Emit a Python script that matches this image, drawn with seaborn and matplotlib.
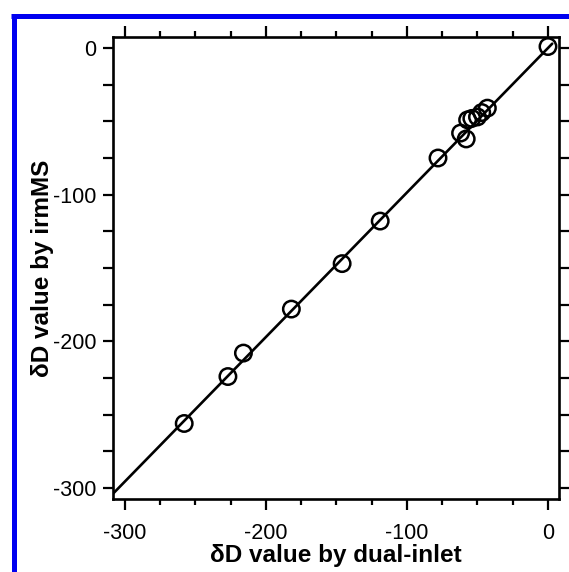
import numpy as np
import pandas as pd
import matplotlib
matplotlib.use('Agg')
import matplotlib.pyplot as plt
from matplotlib.ticker import MultipleLocator
from matplotlib.lines import Line2D
import seaborn as sns

# dD values (permil)
dual_inlet = [0, -43, -47, -50, -54, -57, -62, -58, -78, -119, -146, -182, -216, -227, -258]
irm_ms = [1, -41, -44, -47, -48, -49, -58, -62, -75, -118, -147, -178, -208, -224, -256]

# fitted line (slope, intercept) and its x extent
fit_slope = 0.985
fit_intercept = 0.0
fit_x = [-312, 3]

df = pd.DataFrame({'dual_inlet': dual_inlet, 'irmMS': irm_ms})
line_df = pd.DataFrame({'x': fit_x})
line_df['y'] = fit_slope * line_df['x'] + fit_intercept

sns.set_style('ticks')
plt.rcParams['font.family'] = ['Liberation Sans', 'DejaVu Sans']
plt.rcParams['axes.unicode_minus'] = False
plt.rcParams['text.color'] = 'black'
plt.rcParams['axes.labelcolor'] = 'black'

fig = plt.figure(figsize=(5.69, 5.72), dpi=100)
ax = fig.add_axes([0.1986, 0.1276, 0.7838, 0.8077])

sns.lineplot(data=line_df, x='x', y='y', ax=ax, color='black', linewidth=1.9)
sns.scatterplot(data=df, x='dual_inlet', y='irmMS', ax=ax, marker='o', s=140,
                facecolor='none', edgecolor='black', linewidth=1.8, zorder=3)

ax.set_xlim(-308.5, 7.8)
ax.set_ylim(-307.5, 7.5)

ax.xaxis.set_major_locator(MultipleLocator(100))
ax.xaxis.set_minor_locator(MultipleLocator(25))
ax.yaxis.set_major_locator(MultipleLocator(100))
ax.yaxis.set_minor_locator(MultipleLocator(25))

ax.tick_params(which='both', direction='out', top=True, right=True, width=1.6, color='black',
               labelsize=15.5, labelcolor='black')
ax.tick_params(axis='x', which='major', length=8, pad=9)
ax.tick_params(axis='x', which='minor', length=4.5)
ax.tick_params(axis='y', which='major', length=7, pad=5)
ax.tick_params(axis='y', which='minor', length=7)

for side in ['top', 'bottom', 'left', 'right']:
    ax.spines[side].set_linewidth(1.9)
    ax.spines[side].set_color('black')

ax.set_xlabel('\u03b4D value by dual-inlet', fontsize=17.5, fontweight='bold', labelpad=0, color='black')
ax.set_ylabel('\u03b4D value by irmMS', fontsize=17.5, fontweight='bold', labelpad=-1, color='black')

# blue frame on the top and left edges
fig.add_artist(Line2D([11 / 569, 1.0], [1 - 16 / 572, 1 - 16 / 572], transform=fig.transFigure,
                      color='#0000f0', linewidth=3.6, solid_capstyle='butt'))
fig.add_artist(Line2D([14 / 569, 14 / 569], [0.0, 1 - 13.5 / 572], transform=fig.transFigure,
                      color='#0000f0', linewidth=3.6, solid_capstyle='butt'))

fig.savefig('out.png', dpi=100)
